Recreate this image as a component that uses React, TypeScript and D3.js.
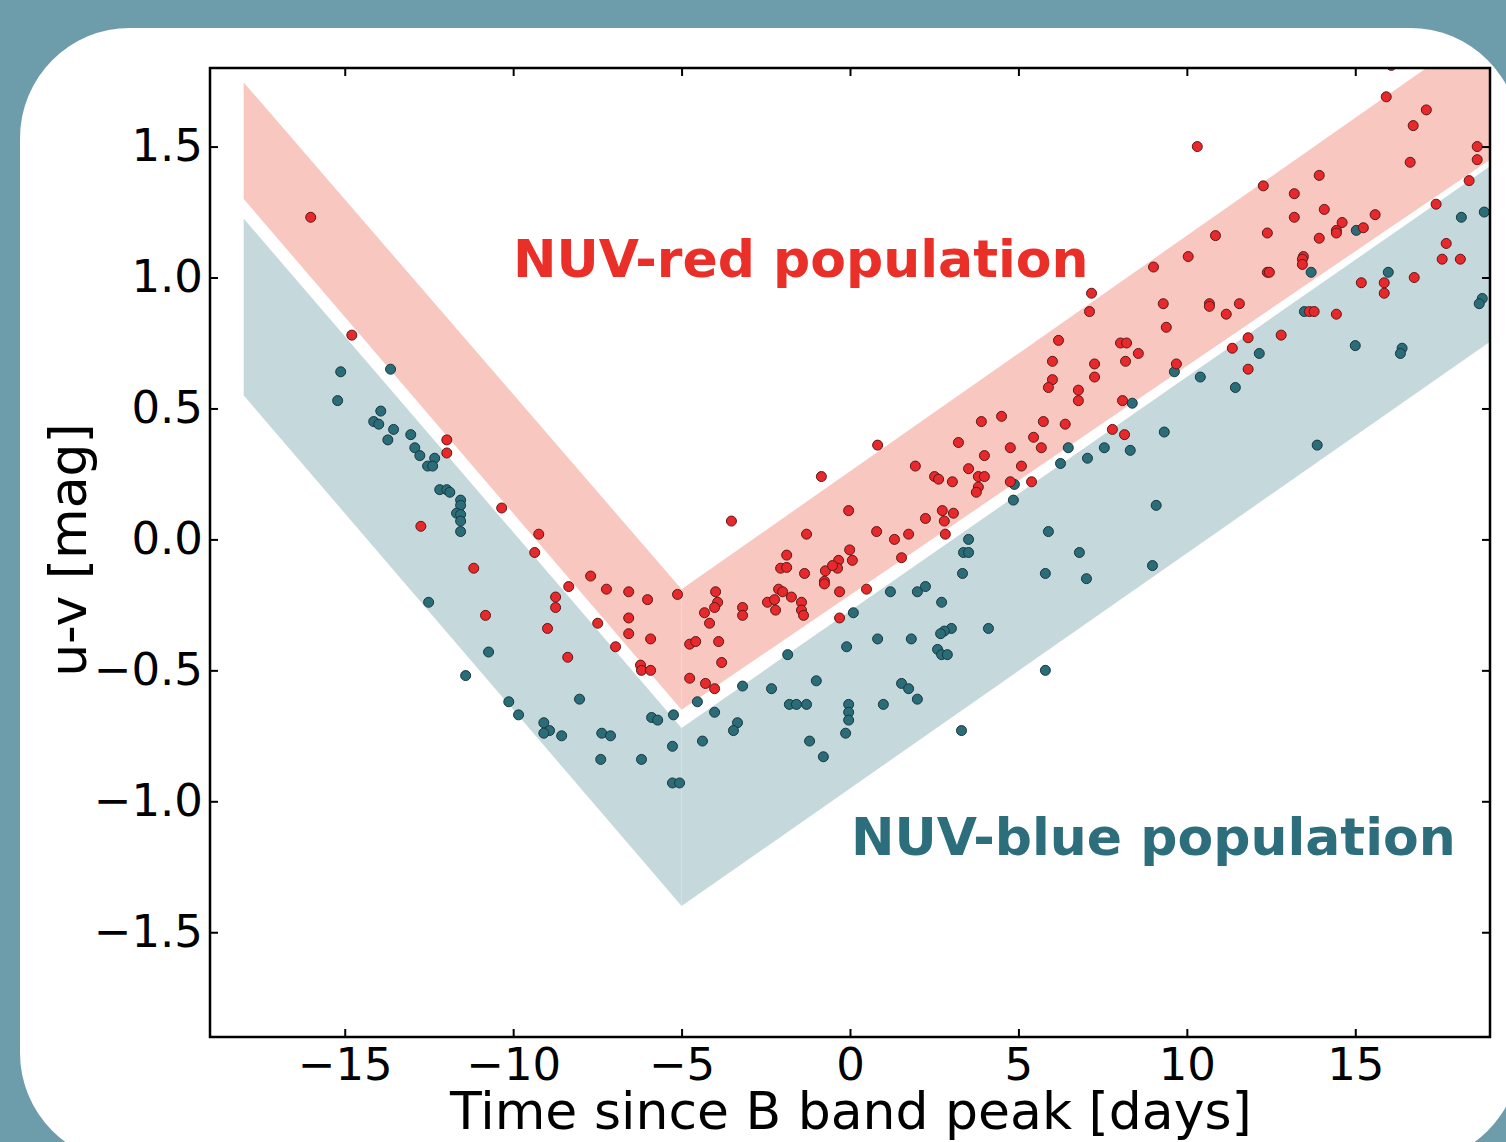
import { useEffect, useRef } from 'react';
import * as d3 from 'd3';

// NUV-red supernovae: days since B-band peak and u-v colour
const redDays = [
  -16.01, -14.79, -11.97, -11.97, -10.34, -12.74, -9.24, -9.36, -11.17, -7.70,
  -8.35, -8.74, -8.74, -10.82, -8.98, -8.38, -3.52, -1.29, -1.88, -2.06,
  -1.88, -1.35, -0.04, -0.01, -0.34, -0.73, -0.37, -0.52, -0.76, -0.76,
  -0.31, -0.31, -7.23, -6.57, -6.01, -5.12, -6.57, -6.57, -7.49, -6.96,
  -5.92, -6.22, -6.19, -5.92, -3.99, -3.93, -4.02, -4.32, -4.17, -3.19,
  -3.19, -2.45, -2.24, -2.12, -2.00, -2.21, -1.74, -1.44, -1.44, -1.38,
  -3.90, -4.76, -4.58, -3.81, -4.76, -4.29, -4.02, -0.85, 0.82, 3.22,
  3.90, 5.74, 6.39, 5.45, 5.68, 4.76, 3.99, 1.94, 2.51, 2.63,
  3.04, 3.52, 3.81, 3.99, 3.81, 3.75, 5.09, 4.76, 5.39, 2.74,
  2.24, 2.80, 3.07, 2.83, 0.79, 1.32, 1.74, 0.07, 1.53, 0.49,
  7.17, 7.11, 6.19, 6.01, 7.26, 7.26, 6.01, 5.89, 6.78, 6.78,
  8.03, 8.09, 4.50, 7.79, 8.15, 15.92, 17.11, 16.72, 10.31, 18.62,
  18.62, 16.63, 18.38, 13.93, 12.27, 13.19, 14.08, 13.19, 15.59, 14.61,
  14.44, 14.44, 15.24, 13.93, 12.39, 10.85, 10.04, 9.01, 13.46, 13.43,
  13.43, 12.39, 12.45, 17.40, 17.70, 17.58, 18.12, 15.18, 15.86, 15.86,
  16.75, 16.07, 9.30, 10.67, 10.67, 11.56, 11.17, 9.39, 8.21, 8.56,
  8.18, 9.69, 11.35, 11.82, 11.82, 12.80, 13.64, 13.78, 14.44,
];
const redColor = [
  1.23, 0.78, 0.38, 0.33, 0.12, 0.05, 0.02, -0.05, -0.11, -0.14,
  -0.18, -0.22, -0.26, -0.29, -0.34, -0.45, 0.07, 0.02, -0.06, -0.11,
  -0.107, -0.13, 0.11, -0.04, -0.08, -0.12, -0.11, -0.10, -0.16, -0.17,
  -0.20, -0.30, -0.19, -0.20, -0.23, -0.21, -0.30, -0.36, -0.32, -0.41,
  -0.38, -0.48, -0.50, -0.50, -0.20, -0.24, -0.26, -0.28, -0.32, -0.26,
  -0.29, -0.24, -0.23, -0.19, -0.20, -0.27, -0.22, -0.24, -0.27, -0.29,
  -0.39, -0.40, -0.39, -0.47, -0.53, -0.55, -0.57, 0.24, 0.36, 0.37,
  0.45, 0.45, 0.44, 0.39, 0.35, 0.35, 0.32, 0.28, 0.24, 0.23,
  0.22, 0.27, 0.24, 0.24, 0.20, 0.18, 0.28, 0.22, 0.22, 0.11,
  0.08, 0.07, 0.10, 0.02, 0.03, 0.00, 0.02, -0.08, -0.07, -0.19,
  0.94, 0.87, 0.76, 0.68, 0.67, 0.62, 0.61, 0.58, 0.57, 0.53,
  0.75, 0.53, 0.47, 0.42, 0.40, 1.69, 1.64, 1.58, 1.50, 1.50,
  1.45, 1.44, 1.37, 1.39, 1.35, 1.32, 1.26, 1.23, 1.24, 1.21,
  1.18, 1.17, 1.19, 1.15, 1.17, 1.16, 1.08, 1.04, 1.08, 1.07,
  1.05, 1.02, 1.02, 1.28, 1.13, 1.07, 1.07, 0.98, 0.98, 0.94,
  1.00, 1.81, 0.90, 0.90, 0.89, 0.90, 0.86, 0.81, 0.75, 0.71,
  0.68, 0.67, 0.73, 0.77, 0.65, 0.78, 0.87, 0.87, 0.86,
];

// NUV-blue supernovae
const blueDays = [
  -15.12, -15.21, -13.64, -13.93, -14.14, -13.99, -13.55, -13.72, -13.04, -12.92,
  -12.77, -12.33, -12.54, -12.39, -12.18, -11.97, -11.88, -11.56, -11.56, -11.68,
  -11.56, -11.56, -11.56, -12.51, -10.73, -11.41, -10.13, -9.84, -9.09, -8.92,
  -9.09, -8.56, -8.03, -1.85, -3.19, -2.33, -1.00, -1.80, -1.59, -1.29,
  -0.10, -0.04, -0.04, -0.04, -0.13, -1.20, -0.79, -4.53, -4.02, -3.34,
  -3.46, -4.38, -5.24, -5.89, -5.71, -5.27, -5.27, -5.06, -7.37, -7.11,
  -7.40, -6.19, 6.48, 7.05, 6.25, 4.88, 4.85, 5.89, 6.81, 5.80,
  7.02, 3.52, 3.37, 3.52, 3.34, 2.24, 2.00, 1.20, 2.72, 0.10,
  3.01, 2.80, 2.69, 4.11, 0.82, 1.82, 2.60, 2.72, 2.89, 5.80,
  1.53, 1.74, 2.00, 0.99, 3.31, 15.03, 18.15, 18.83, 13.69, 15.98,
  18.77, 13.49, 18.68, 9.63, 10.40, 12.15, 11.44, 15.00, 16.39, 16.34,
  8.38, 9.33, 7.55, 8.32, 13.87, 9.09, 8.98,
];
const blueColor = [
  0.64, 0.53, 0.65, 0.49, 0.45, 0.44, 0.42, 0.38, 0.40, 0.35,
  0.32, 0.31, 0.28, 0.28, 0.19, 0.19, 0.18, 0.15, 0.13, 0.10,
  0.095, 0.07, 0.03, -0.24, -0.43, -0.52, -0.62, -0.67, -0.70, -0.73,
  -0.74, -0.75, -0.61, -0.44, -0.56, -0.57, -0.54, -0.63, -0.63, -0.63,
  -0.41, -0.63, -0.66, -0.69, -0.74, -0.77, -0.83, -0.62, -0.66, -0.70,
  -0.73, -0.77, -0.67, -0.68, -0.69, -0.79, -0.93, -0.93, -0.74, -0.75,
  -0.84, -0.84, 0.35, 0.31, 0.29, 0.21, 0.15, 0.03, -0.05, -0.13,
  -0.15, 0.00, -0.05, -0.05, -0.13, -0.18, -0.20, -0.20, -0.24, -0.28,
  -0.34, -0.35, -0.36, -0.34, -0.38, -0.38, -0.42, -0.44, -0.44, -0.50,
  -0.55, -0.57, -0.61, -0.63, -0.73, 1.18, 1.23, 1.25, 1.02, 1.02,
  0.92, 0.87, 0.90, 0.64, 0.62, 0.71, 0.58, 0.74, 0.73, 0.71,
  0.52, 0.41, 0.35, 0.34, 0.36, 0.13, -0.10,
];

// shaded population bands: edges at these days
const bandDays = [-18, -5, 19];
const redBandTop = [1.745, -0.19, 1.97];
const redBandBottom = [1.3, -0.65, 1.45];
const blueBandTop = [1.225, -0.72, 1.425];
const blueBandBottom = [0.55, -1.4, 0.755];

const xTicks = [-15, -10, -5, 0, 5, 10, 15];
const yTicks = [-1.5, -1.0, -0.5, 0.0, 0.5, 1.0, 1.5];

const FONT = 'DejaVu Sans';

export default function App() {
  const ref = useRef<SVGSVGElement>(null);

  useEffect(() => {
    if (!ref.current) return;
    const W = 1506;
    const H = 1142;
    const box = { left: 210, top: 68, right: 1490, bottom: 1037 };

    const svg = d3.select(ref.current);
    svg.selectAll('*').remove();
    svg.attr('width', W).attr('height', H);

    // slide background + white rounded card
    svg.append('rect').attr('width', W).attr('height', H).attr('fill', '#6d9cab');
    svg.append('rect')
      .attr('x', 20).attr('y', 28)
      .attr('width', 1500).attr('height', 1135)
      .attr('rx', 110)
      .attr('fill', '#ffffff');

    const x = d3.scaleLinear().domain([-19, 19]).range([box.left, box.right]);
    const y = d3.scaleLinear().domain([-1.9, 1.8]).range([box.bottom, box.top]);

    svg.append('clipPath').attr('id', 'plot-clip')
      .append('rect')
      .attr('x', box.left).attr('y', box.top)
      .attr('width', box.right - box.left).attr('height', box.bottom - box.top);

    const plot = svg.append('g').attr('clip-path', 'url(#plot-clip)');

    // bands, drawn as two pieces each (left and right of the vertex)
    const area = d3.area<{ t: number; lo: number; hi: number }>()
      .x(d => x(d.t))
      .y0(d => y(d.lo))
      .y1(d => y(d.hi));

    const bands = [
      { top: blueBandTop, bottom: blueBandBottom, fill: '#c5d9dd' },
      { top: redBandTop, bottom: redBandBottom, fill: '#f7c7c0' },
    ];
    bands.forEach(b => {
      for (let i = 0; i < bandDays.length - 1; i++) {
        const seg = [i, i + 1].map(j => ({ t: bandDays[j], lo: b.bottom[j], hi: b.top[j] }));
        plot.append('path').attr('d', area(seg)).attr('fill', b.fill);
      }
    });

    // scatter points
    const blue = blueDays.map((t, i) => ({ t, v: blueColor[i] }));
    const red = redDays.map((t, i) => ({ t, v: redColor[i] }));

    plot.selectAll('.blue-pt')
      .data(blue)
      .join('circle')
      .attr('class', 'blue-pt')
      .attr('cx', d => x(d.t))
      .attr('cy', d => y(d.v))
      .attr('r', 5)
      .attr('fill', '#2b6c79')
      .attr('stroke', '#173840')
      .attr('stroke-width', 1);

    plot.selectAll('.red-pt')
      .data(red)
      .join('circle')
      .attr('class', 'red-pt')
      .attr('cx', d => x(d.t))
      .attr('cy', d => y(d.v))
      .attr('r', 5)
      .attr('fill', '#e8282a')
      .attr('stroke', '#5a1a18')
      .attr('stroke-width', 1);

    // population labels
    svg.append('text')
      .attr('x', 513).attr('y', 277)
      .attr('font-family', FONT).attr('font-weight', 'bold').attr('font-size', 52)
      .attr('fill', '#ea2f28')
      .text('NUV-red population');

    svg.append('text')
      .attr('x', 851).attr('y', 855)
      .attr('font-family', FONT).attr('font-weight', 'bold').attr('font-size', 52)
      .attr('fill', '#2d6e7c')
      .text('NUV-blue population');

    // axes with inward ticks on all four sides
    const styleAxis = (g: d3.Selection<SVGGElement, unknown, null, undefined>) => {
      g.select('.domain').remove();
      g.selectAll('.tick line').attr('stroke', '#000').attr('stroke-width', 2);
      g.selectAll('.tick text')
        .attr('fill', '#000')
        .style('font-family', FONT)
        .style('font-size', '45px');
    };

    svg.append('g')
      .attr('transform', `translate(0,${box.bottom})`)
      .call(d3.axisBottom(x).tickValues(xTicks).tickSizeInner(-8).tickSizeOuter(0)
        .tickPadding(11).tickFormat(d3.format('d')))
      .call(styleAxis);

    svg.append('g')
      .attr('transform', `translate(0,${box.top})`)
      .call(d3.axisTop(x).tickValues(xTicks).tickSizeInner(-8).tickSizeOuter(0)
        .tickFormat(() => ''))
      .call(styleAxis);

    svg.append('g')
      .attr('transform', `translate(${box.left},0)`)
      .call(d3.axisLeft(y).tickValues(yTicks).tickSizeInner(-8).tickSizeOuter(0)
        .tickPadding(7).tickFormat(d3.format('.1f')))
      .call(styleAxis);

    svg.append('g')
      .attr('transform', `translate(${box.right},0)`)
      .call(d3.axisRight(y).tickValues(yTicks).tickSizeInner(-8).tickSizeOuter(0)
        .tickFormat(() => ''))
      .call(styleAxis);

    // frame
    svg.append('rect')
      .attr('x', box.left).attr('y', box.top)
      .attr('width', box.right - box.left).attr('height', box.bottom - box.top)
      .attr('fill', 'none')
      .attr('stroke', '#000')
      .attr('stroke-width', 2.5);

    // axis titles
    svg.append('text')
      .attr('x', 851).attr('y', 1129)
      .attr('text-anchor', 'middle')
      .attr('font-family', FONT).attr('font-size', 52)
      .attr('fill', '#000')
      .text('Time since B band peak [days]');

    svg.append('text')
      .attr('transform', 'translate(86,550) rotate(-90)')
      .attr('text-anchor', 'middle')
      .attr('font-family', FONT).attr('font-size', 52)
      .attr('fill', '#000')
      .text('u-v [mag]');
  }, []);

  return (
    <div style={{ position: 'absolute', left: 0, top: 0, width: 1506, height: 1142, overflow: 'hidden' }}>
      <svg ref={ref} style={{ display: 'block' }}></svg>
    </div>
  );
}
